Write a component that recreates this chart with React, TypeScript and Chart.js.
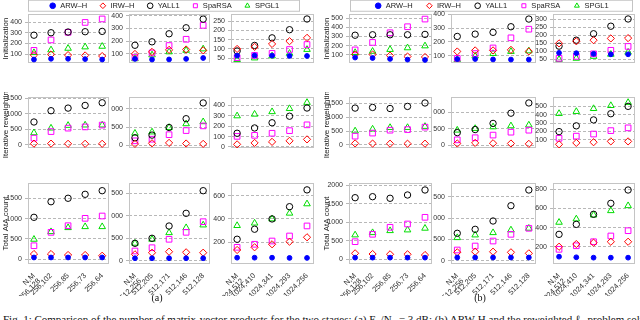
import React, { useEffect, useRef } from "react";
import { Chart, registerables } from "chart.js";
Chart.register(...registerables);

// ---------- data ----------
const SERIES = ["ARW–H", "IRW–H", "YALL1", "SpaRSA", "SPGL1"];
const ROW_TITLES = ["Initialization", "Iterative reweighting", "Total AtA count"];
const CATS_256 = ["256,128", "256,102", "256,85", "256,73", "256,64"];
const CATS_512 = ["512,256", "512,205", "512,171", "512,146", "512,128"];
const CATS_1024 = ["1024,512", "1024,410", "1024,341", "1024,293", "1024,256"];

// rows: ARW-H, IRW-H, YALL1, SpaRSA, SPGL1
const aInit256 = [[48, 55, 55, 52, 48], [90, 96, 90, 87, 81], [279, 302, 309, 312, 315], [135, 234, 306, 400, 433], [113, 139, 154, 167, 173]];
const aInit512 = [[61, 56, 57, 61, 68], [100, 116, 132, 135, 128], [168, 195, 258, 305, 373], [72, 108, 166, 215, 324], [62, 92, 116, 128, 139]];
const aInit1024 = [[64, 65, 64, 62, 62], [100, 111, 127, 142, 160], [89, 119, 160, 204, 262], [53, 65, 76, 97, 124], [42, 51, 62, 76, 97]];
const aIter256 = [[], [40, 40, 35, 35, 35], [736, 1099, 1183, 1269, 1355], [217, 428, 539, 578, 637], [388, 539, 625, 637, 637]];
const aIter512 = [[], [45, 61, 72, 55, 45], [211, 283, 489, 728, 1156], [128, 172, 294, 406, 533], [333, 367, 489, 589, 644]];
const aIter1024 = [[], [25, 39, 49, 59, 73], [132, 183, 233, 296, 375], [102, 112, 132, 157, 213], [299, 315, 339, 369, 428]];
const aTotal256 = [[45, 45, 45, 45, 45], [130, 130, 106, 106, 88], [1032, 1415, 1500, 1597, 1686], [334, 663, 826, 1007, 1064], [491, 678, 777, 801, 801]];
const aTotal512 = [[55, 55, 55, 55, 55], [142, 178, 200, 187, 178], [387, 498, 771, 1053, 1556], [216, 289, 476, 631, 867], [387, 476, 622, 733, 793]];
const aTotal1024 = [[68, 68, 68, 66, 66], [134, 157, 183, 205, 243], [226, 312, 400, 505, 649], [157, 183, 211, 254, 340], [343, 364, 400, 449, 529]];

const bInit256 = [[72, 67, 57, 50, 46], [105, 105, 93, 83, 78], [314, 319, 319, 319, 323], [155, 236, 341, 406, 489], [126, 139, 159, 177, 198]];
const bInit512 = [[75, 75, 72, 71, 71], [130, 138, 138, 142, 131], [240, 257, 270, 311, 367], [80, 115, 156, 230, 293], [71, 97, 115, 130, 134]];
const bInit1024 = [[90, 88, 84, 81, 81], [149, 162, 169, 180, 182], [132, 169, 209, 256, 301], [56, 68, 84, 106, 130], [49, 56, 68, 81, 94]];
const bIter256 = [[], [55, 50, 45, 45, 45], [1327, 1350, 1312, 1387, 1511], [316, 427, 531, 553, 642], [502, 569, 626, 626, 664]];
const bIter512 = [[], [61, 79, 68, 61, 50], [387, 479, 663, 970, 1276], [171, 234, 313, 400, 460], [460, 510, 558, 589, 613]];
const bIter1024 = [[], [46, 63, 71, 81, 81], [198, 267, 338, 412, 500], [118, 144, 169, 210, 243], [414, 438, 473, 509, 546]];
const bTotal256 = [[45, 45, 45, 45, 45], [162, 143, 135, 135, 116], [1665, 1692, 1649, 1738, 1873], [476, 676, 865, 954, 1135], [657, 719, 773, 792, 838]];
const bTotal512 = [[75, 75, 75, 75, 75], [197, 211, 211, 197, 173], [642, 735, 930, 1288, 1656], [251, 344, 461, 618, 759], [539, 602, 656, 719, 759]];
const bTotal1024 = [[98, 92, 88, 88, 88], [202, 230, 244, 254, 254], [331, 435, 540, 654, 793], [175, 212, 254, 314, 369], [456, 491, 532, 577, 629]];

const A_TICKS = [
  [[100, 200, 300, 400], [100, 200, 300, 400], [50, 100, 150, 200, 250]],
  [[0, 500, 1000, 1500], [0, 500, 1000], [0, 100, 200, 300, 400]],
  [[0, 500, 1000, 1500], [0, 500, 1000, 1500], [200, 400, 600]],
];
const B_TICKS = [
  [[100, 200, 300, 400, 500], [100, 200, 300, 400], [50, 100, 150, 200, 250, 300]],
  [[0, 500, 1000, 1500], [0, 500, 1000], [100, 200, 300, 400, 500]],
  [[0, 500, 1000, 1500, 2000], [0, 500, 1000, 1500], [200, 400, 600, 800]],
];
const A_RANGES = [
  [[15, 480], [29, 413], [24, 289]],
  [[-100, 1540], [-67, 1317], [-10, 481]],
  [[-115, 1875], [-73, 1727], [14, 708]],
];
const B_RANGES = [
  [[13, 544], [46, 404], [27, 332]],
  [[-110, 1726], [-74, 1455], [2, 612]],
  [[-127, 2062], [-77, 1820], [22, 866]],
];

// ---------- layout / style ----------
const FONT = "'Liberation Sans', Arial, sans-serif";
const SERIF = "'Liberation Serif', 'Times New Roman', serif";
const ROWS = [[14, 95], [97, 180], [183, 264]];
const A_COLS = [[28, 112], [129, 213], [231, 317]];
const B_COLS = [[349, 435], [451, 539], [553, 638]];
const MARK = [
  { color: "#0000ff", style: "circle", r: 2.4, fill: true },
  { color: "#ff0000", style: "rectRot", r: 3.6, fill: false },
  { color: "#000000", style: "circle", r: 3.2, fill: false },
  { color: "#ff00ff", style: "rect", r: 4, fill: false },
  { color: "#00dd00", style: "triangle", r: 3.8, fill: false },
];

const boxPlugin = {
  id: "boxBorder",
  beforeDatasetsDraw(chart: any) {
    const { ctx, chartArea: a } = chart;
    ctx.save();
    ctx.strokeStyle = "#c4c4c4";
    ctx.lineWidth = 1;
    ctx.strokeRect(Math.round(a.left) + 0.5, Math.round(a.top) + 0.5, Math.round(a.right - a.left) - 1, Math.round(a.bottom - a.top) - 1);
    ctx.restore();
  },
};

type SubCfg = {
  key: string; box: number[]; rowIdx: number; colIdx: number;
  values: number[][]; range: number[]; ticks: number[]; cats: string[];
};

function Subplot({ cfg }: { cfg: SubCfg }) {
  const ref = useRef<HTMLCanvasElement>(null);
  const [l, r, t, b] = cfg.box;
  const yW = cfg.colIdx === 0 ? 28 : 18;
  const bottomRow = cfg.rowIdx === 2;
  const xH = 32;
  const padT = 5;
  const padB = bottomRow ? 0 : 5;
  const width = yW + (r - l) + 2;
  const height = padT + (b - t) + (bottomRow ? xH : padB);
  useEffect(() => {
    const cats = cfg.cats;
    const chart = new Chart(ref.current!, {
      type: "scatter",
      data: {
        datasets: MARK.map((m, k) => ({
          label: SERIES[k],
          data: (cfg.values[k] || []).map((v, i) => ({ x: i, y: v })),
          pointStyle: m.style as any,
          pointRadius: m.r,
          borderColor: m.color,
          backgroundColor: m.fill ? m.color : "rgba(0,0,0,0)",
          borderWidth: 1,
          showLine: false,
          clip: false as any,
        })),
      },
      options: {
        animation: false,
        responsive: false,
        events: [],
        layout: { padding: { top: padT, bottom: padB, left: 0, right: 2 } },
        plugins: { legend: { display: false }, tooltip: { enabled: false } },
        scales: {
          x: {
            type: "linear",
            min: -0.35,
            max: 4.4,
            display: bottomRow,
            afterBuildTicks: (s: any) => { s.ticks = cats.map((_, i) => ({ value: i })); },
            afterFit: (s: any) => { s.height = xH; s.paddingLeft = 0; s.paddingRight = 0; },
            ticks: {
              autoSkip: false, maxRotation: 45, minRotation: 45, padding: 0,
              font: { size: 7.5, family: FONT, lineHeight: 1.0 }, color: "#333",
              callback: (v: any) => (v === 0 ? ["N,M", cats[0]] : cats[v]),
            },
            grid: { display: false },
            border: { display: false },
          },
          y: {
            type: "linear",
            min: cfg.range[0],
            max: cfg.range[1],
            afterBuildTicks: (s: any) => { s.ticks = cfg.ticks.map((v) => ({ value: v })); },
            afterFit: (s: any) => { s.width = yW; s.paddingTop = 0; s.paddingBottom = 0; },
            ticks: {
              autoSkip: false, padding: 3,
              font: { size: 7, family: FONT }, color: "#333",
              callback: (v: any) => String(v),
            },
            grid: { color: "#b8b8b8", tickLength: 3, drawTicks: true },
            border: { display: false, dash: [3, 2] },
            title: {
              display: cfg.colIdx === 0,
              text: ROW_TITLES[cfg.rowIdx],
              font: { size: 8, family: FONT }, color: "#222",
              padding: { top: 1, bottom: 0 },
            },
          },
        },
      } as any,
      plugins: [boxPlugin],
    });
    return () => chart.destroy();
  }, []);
  return (
    <canvas ref={ref} width={width} height={height}
      style={{ position: "absolute", left: l - yW, top: t - padT, width, height }} />
  );
}

function Legend({ left, right, pad }: { left: number; right: number; pad: number }) {
  const ref = useRef<HTMLCanvasElement>(null);
  const extra = 40;
  const top = 2.25 - pad;
  const boxW = right - left;
  const width = boxW + 2 * extra;
  const height = 90;
  useEffect(() => {
    const border = {
      id: "legendBorder",
      afterDraw(chart: any) {
        const ctx = chart.ctx;
        ctx.save();
        ctx.strokeStyle = "#c4c4c4";
        ctx.lineWidth = 1;
        ctx.strokeRect(extra + 0.5, -top + 0.5, boxW - 1, 11);
        ctx.restore();
      },
    };
    const chart = new Chart(ref.current!, {
      type: "scatter",
      data: {
        datasets: MARK.map((m, k) => ({
          label: SERIES[k],
          data: [],
          pointStyle: m.style as any,
          borderColor: m.color,
          backgroundColor: m.fill ? m.color : "rgba(0,0,0,0)",
          borderWidth: 1,
        })),
      },
      options: {
        animation: false,
        responsive: false,
        events: [],
        layout: { padding: 0 },
        scales: { x: { display: false }, y: { display: false } },
        plugins: {
          tooltip: { enabled: false },
          legend: {
            display: true,
            position: "top",
            labels: {
              usePointStyle: true, boxHeight: 4, padding: pad,
              font: { size: 7.5, family: FONT }, color: "#222",
            },
          },
        },
      } as any,
      plugins: [border],
    });
    return () => chart.destroy();
  }, []);
  return <canvas ref={ref} width={width} height={height}
    style={{ position: "absolute", left: left - extra, top, width, height }} />;
}

export default function App() {
  const A_DATA = [[aInit256, aInit512, aInit1024], [aIter256, aIter512, aIter1024], [aTotal256, aTotal512, aTotal1024]];
  const B_DATA = [[bInit256, bInit512, bInit1024], [bIter256, bIter512, bIter1024], [bTotal256, bTotal512, bTotal1024]];
  const CATS = [CATS_256, CATS_512, CATS_1024];
  const panels = [
    { id: "a", cols: A_COLS, data: A_DATA, ranges: A_RANGES, ticks: A_TICKS },
    { id: "b", cols: B_COLS, data: B_DATA, ranges: B_RANGES, ticks: B_TICKS },
  ];
  const subs: SubCfg[] = [];
  panels.forEach((p) => {
    ROWS.forEach((row, ri) => {
      p.cols.forEach((col, ci) => {
        subs.push({
          key: p.id + ri + ci,
          box: [col[0], col[1], row[0], row[1]],
          rowIdx: ri, colIdx: ci,
          values: p.data[ri][ci],
          range: p.ranges[ri][ci],
          ticks: p.ticks[ri][ci],
          cats: CATS[ci],
        });
      });
    });
  });
  return (
    <div style={{ position: "fixed", left: 0, top: 0, width: 640, height: 320, overflow: "hidden", background: "#fff" }}>
      <Legend left={28} right={300} pad={12} />
      <Legend left={350} right={633} pad={13} />
      {subs.map((s) => <Subplot key={s.key} cfg={s} />)}
      <div style={{ position: "absolute", left: 137, width: 40, top: 292, textAlign: "center", font: `10px ${SERIF}`, color: "#111" }}>(a)</div>
      <div style={{ position: "absolute", left: 460, width: 40, top: 292, textAlign: "center", font: `10px ${SERIF}`, color: "#111" }}>(b)</div>
      <div style={{ position: "absolute", left: 3, top: 313, whiteSpace: "nowrap", font: `11px ${SERIF}`, color: "#111" }}>
        Fig. 1: Comparison of the number of matrix-vector products for the two stages: (a) E<sub>b</sub>/N<sub>0</sub> = 3 dB; (b) ARW-H and the reweighted ℓ<sub>1</sub> problem solved by the algorithms.
      </div>
    </div>
  );
}
